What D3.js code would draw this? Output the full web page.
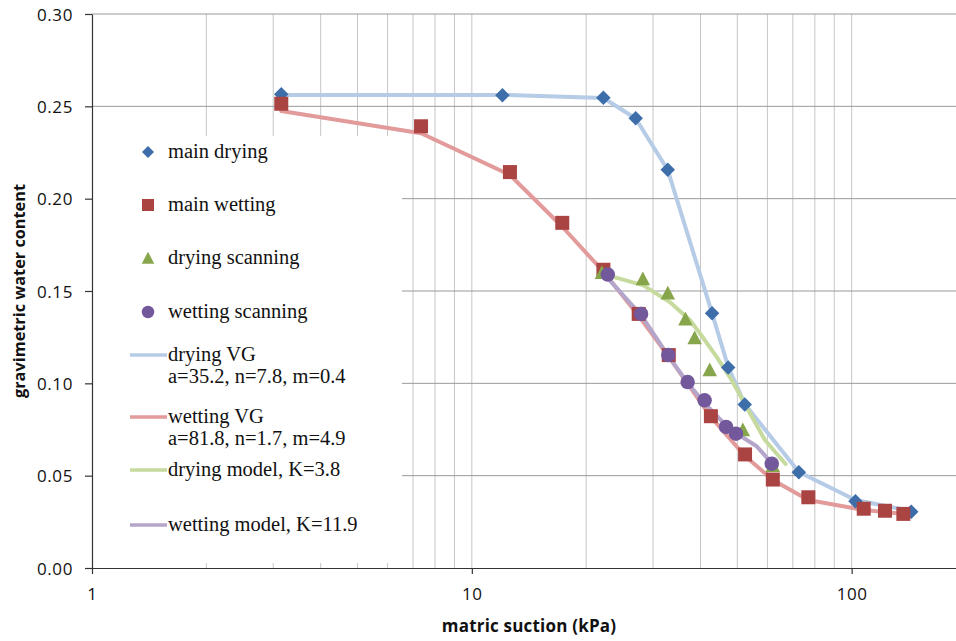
<!DOCTYPE html>
<html>
<head>
<meta charset="utf-8">
<script src="https://cdn.jsdelivr.net/npm/d3@7"></script>
<style>
  html, body { margin: 0; padding: 0; background: #fff; }
  svg { display: block; }
</style>
</head>
<body>
<svg id="chart" width="956" height="641"></svg>
<script>
// ---- measured points ----
const mainDryingX = [3.15, 12.04, 22.2, 27.0, 32.8, 42.9, 47.3, 52.3, 72.6, 102.3, 143.5];
const mainDryingY = [0.2565, 0.2560, 0.2546, 0.2435, 0.2157, 0.1379, 0.1086, 0.0885, 0.0519, 0.0362, 0.0305];

const mainWettingX = [3.15, 7.35, 12.6, 17.3, 22.2, 27.5, 33.0, 42.6, 52.4, 62.0, 76.9, 107.6, 122.4, 136.8];
const mainWettingY = [0.2514, 0.2392, 0.2144, 0.1869, 0.1615, 0.1376, 0.1153, 0.0822, 0.0615, 0.0479, 0.0383, 0.0321, 0.0310, 0.0293];

const dryingScanX = [22.0, 28.2, 32.8, 36.5, 38.6, 42.3, 51.7, 62.0];
const dryingScanY = [0.1600, 0.1567, 0.1489, 0.1349, 0.1247, 0.1074, 0.0749, 0.0555];

const wettingScanX = [22.8, 27.9, 32.9, 37.0, 41.0, 46.7, 49.6, 61.6];
const wettingScanY = [0.1589, 0.1376, 0.1153, 0.1007, 0.0908, 0.0764, 0.0727, 0.0565];

// ---- fitted curves ----
const dryingVGX = [3.15, 12.04, 22.2, 27.0, 32.8, 42.9, 47.3, 52.3, 72.6, 102.3, 143.5];
const dryingVGY = [0.2562, 0.2562, 0.2545, 0.2434, 0.2155, 0.1380, 0.1090, 0.0888, 0.0520, 0.0368, 0.0309];

const wettingVGX = [3.15, 7.35, 12.6, 17.3, 22.2, 27.5, 33.0, 42.6, 52.4, 62.0, 76.9, 107.6, 122.4, 136.8];
const wettingVGY = [0.2475, 0.2354, 0.2128, 0.1848, 0.1605, 0.1365, 0.1143, 0.0818, 0.0606, 0.0477, 0.0368, 0.0314, 0.0303, 0.0292];

const dryingModelX = [21.7, 28.2, 33.2, 37.5, 40.5, 44.1, 48.3, 53.4, 59.1, 67.0];
const dryingModelY = [0.1597, 0.1532, 0.1440, 0.1343, 0.1251, 0.1143, 0.1018, 0.0856, 0.0693, 0.0563];

const wettingModelX = [22.8, 28.0, 32.8, 37.0, 41.0, 46.6, 49.5, 56.1, 61.6];
const wettingModelY = [0.1570, 0.1365, 0.1153, 0.1002, 0.0893, 0.0774, 0.0731, 0.0661, 0.0568];

// ---- axes ----
const xTickValues = [1, 10, 100];
const yTickValues = [0, 0.05, 0.10, 0.15, 0.20, 0.25, 0.30];
const xTitle = "matric suction (kPa)";
const yTitle = "gravimetric water content";

// ---- legend ----
const markerLegend = ["main drying", "main wetting", "drying scanning", "wetting scanning"];
const lineLegend = [
  ["drying VG", "a=35.2, n=7.8, m=0.4"],
  ["wetting VG", "a=81.8, n=1.7, m=4.9"],
  ["drying model, K=3.8"],
  ["wetting model, K=11.9"]
];

// ---- style ----
const markerColors = ["#3d6eaa", "#aa4443", "#87a64b", "#73589b"];
const lineColors = ["#b5cbe6", "#e29b9a", "#c6da9e", "#b4a5cb"];

const svg = d3.select("#chart");
const W = 956;
const plotLeft = 92, plotTop = 14, plotBottom = 568;

const x = d3.scaleLog().domain([1, 200]).range([plotLeft, 966]);
const y = d3.scaleLinear().domain([0, 0.30]).range([plotBottom, plotTop]);

const zip = (xs, ys) => xs.map((v, i) => [v, ys[i]]);

// gridlines
const grid = svg.append("g");
grid.selectAll("line.v")
  .data(x.ticks().filter(d => d > 1))
  .join("line")
  .attr("class", "v")
  .attr("x1", d => x(d)).attr("x2", d => x(d))
  .attr("y1", plotTop).attr("y2", plotBottom)
  .attr("stroke", "#c6c6c6").attr("stroke-width", 1);
grid.selectAll("line.h")
  .data(yTickValues.filter(d => d > 0))
  .join("line")
  .attr("class", "h")
  .attr("x1", plotLeft).attr("x2", W)
  .attr("y1", d => y(d)).attr("y2", d => y(d))
  .attr("stroke", "#999").attr("stroke-width", 1);

// legend background sits over the grid
const legend = svg.append("g");
legend.append("rect")
  .attr("x", 93).attr("y", 136).attr("width", 309).attr("height", 427)
  .attr("fill", "#fff");

// axes
const yAxis = d3.axisLeft(y).tickValues(yTickValues).tickFormat(d3.format(".2f"))
  .tickSize(7).tickSizeOuter(0).tickPadding(12);
const gy = svg.append("g").attr("transform", `translate(${plotLeft},0)`).call(yAxis);

const xAxis = d3.axisBottom(x).tickValues(xTickValues).tickFormat(d3.format("d"))
  .tickSize(6).tickSizeOuter(0).tickPadding(14);
const gx = svg.append("g").attr("transform", `translate(0,${plotBottom})`).call(xAxis);

[gx, gy].forEach(g => {
  g.select(".domain").attr("stroke", "#333").attr("stroke-width", 1.2);
  g.selectAll(".tick line").attr("stroke", "#333").attr("stroke-width", 1.2);
  g.selectAll(".tick text")
    .attr("fill", "#111")
    .style("font-family", "'Open Sans', sans-serif")
    .style("font-size", "17px")
    .style("letter-spacing", "0.6px");
});
gy.selectAll(".tick text").attr("dy", "0.36em");
gx.selectAll(".tick text").attr("dy", "0.71em");

// axis titles
svg.append("text")
  .attr("x", 529).attr("y", 632)
  .attr("text-anchor", "middle")
  .style("font-family", "'Open Sans', sans-serif")
  .style("font-weight", "bold")
  .style("font-size", "17px")
  .style("letter-spacing", "0.2px")
  .attr("fill", "#111")
  .text(xTitle);
svg.append("text")
  .attr("transform", "translate(25,291) rotate(-90)")
  .attr("text-anchor", "middle")
  .style("font-family", "'Open Sans', sans-serif")
  .style("font-weight", "bold")
  .style("font-size", "16.3px")
  .attr("fill", "#111")
  .text(yTitle);

// marker shapes
const diamond = {
  draw(ctx, size) {
    const r = Math.sqrt(size) / 2;
    ctx.moveTo(0, -r); ctx.lineTo(r, 0); ctx.lineTo(0, r); ctx.lineTo(-r, 0); ctx.closePath();
  }
};
const square = {
  draw(ctx, size) {
    const h = Math.sqrt(size) / 2;
    ctx.rect(-h, -h, 2 * h, 2 * h);
  }
};
const triangle = {
  draw(ctx, size) {
    const h = Math.sqrt(size) / 2;
    ctx.moveTo(0, -h); ctx.lineTo(h, h * 0.9); ctx.lineTo(-h, h * 0.9); ctx.closePath();
  }
};
const circle = {
  draw(ctx, size) {
    const r = Math.sqrt(size) / 2;
    ctx.moveTo(r, 0); ctx.arc(0, 0, r, 0, 2 * Math.PI);
  }
};
const shapes = [diamond, square, triangle, circle];
const shapeSizes = [14.5 * 14.5, 14 * 14, 14.5 * 14.5, 14.5 * 14.5];
const legendSizes = [12 * 12, 12 * 12, 12.5 * 12.5, 12.5 * 12.5];

// fitted lines
const line = d3.line().x(d => x(d[0])).y(d => y(d[1]));
const curves = [
  zip(dryingVGX, dryingVGY),
  zip(wettingVGX, wettingVGY),
  zip(dryingModelX, dryingModelY),
  zip(wettingModelX, wettingModelY)
];
svg.append("g").selectAll("path")
  .data(curves)
  .join("path")
  .attr("d", line)
  .attr("fill", "none")
  .attr("stroke", (d, i) => lineColors[i])
  .attr("stroke-width", 4)
  .attr("stroke-linejoin", "round")
  .attr("stroke-linecap", "round");

// measured markers
const series = [
  zip(mainDryingX, mainDryingY),
  zip(mainWettingX, mainWettingY),
  zip(dryingScanX, dryingScanY),
  zip(wettingScanX, wettingScanY)
];
series.forEach((pts, i) => {
  const sym = d3.symbol().type(shapes[i]).size(shapeSizes[i]);
  svg.append("g").selectAll("path")
    .data(pts)
    .join("path")
    .attr("transform", d => `translate(${x(d[0])},${y(d[1])})`)
    .attr("d", sym)
    .attr("fill", markerColors[i]);
});

// legend entries
const legendFont = "'Liberation Serif', 'Times New Roman', serif";
const legendSize = 20.5;
const markerRows = [152, 205, 258, 312];
markerLegend.forEach((label, i) => {
  legend.append("path")
    .attr("transform", `translate(148,${markerRows[i]})`)
    .attr("d", d3.symbol().type(shapes[i]).size(legendSizes[i]))
    .attr("fill", markerColors[i]);
  legend.append("text")
    .attr("x", 168).attr("y", markerRows[i] + 6)
    .style("font-family", legendFont).style("font-size", legendSize + "px")
    .attr("fill", "#111")
    .text(label);
});
const lineRows = [355, 417, 470, 525];
lineLegend.forEach((labels, i) => {
  legend.append("line")
    .attr("x1", 130).attr("x2", 167)
    .attr("y1", lineRows[i]).attr("y2", lineRows[i])
    .attr("stroke", lineColors[i]).attr("stroke-width", 3.5);
  labels.forEach((s, j) => {
    legend.append("text")
      .attr("x", 168).attr("y", lineRows[i] + 5.5 + j * 22.9)
      .style("font-family", legendFont).style("font-size", legendSize + "px")
      .attr("fill", "#111")
      .text(s);
  });
});
</script>
</body>
</html>
